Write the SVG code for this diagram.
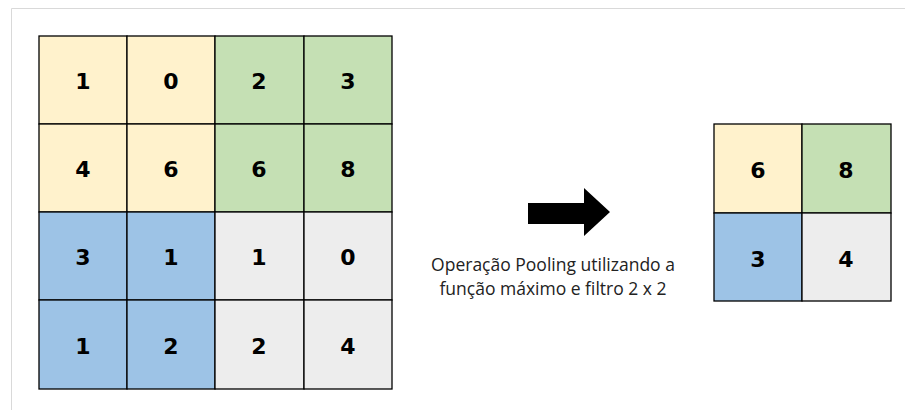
<svg xmlns="http://www.w3.org/2000/svg" width="905" height="410" viewBox="0 0 905 410">
  <style>
    .cell { stroke: #000; stroke-width: 1.3; }
    .y { fill: #FFF2CC; }
    .g { fill: #C5E0B4; }
    .b { fill: #9DC3E6; }
    .e { fill: #EDEDED; }
    .num { font-family: "DejaVu Sans", sans-serif; font-weight: bold; font-size: 22px; fill: #000; text-anchor: middle; }
    .cap { font-family: "Open Sans", "Liberation Sans", sans-serif; font-size: 17.5px; fill: #222; text-anchor: middle; }
  </style>
  <rect width="905" height="410" fill="#fff"/>
  <!-- frame -->
  <path d="M11.5 410 V8.5 H905" fill="none" stroke="#d9d9d9" stroke-width="1"/>

  <!-- 4x4 input matrix -->
  <g id="input">
    <rect class="cell y" x="39" y="36" width="88" height="88"/>
    <rect class="cell y" x="127" y="36" width="88" height="88"/>
    <rect class="cell g" x="215" y="36" width="89" height="88"/>
    <rect class="cell g" x="304" y="36" width="88" height="88"/>
    <rect class="cell y" x="39" y="124" width="88" height="88"/>
    <rect class="cell y" x="127" y="124" width="88" height="88"/>
    <rect class="cell g" x="215" y="124" width="89" height="88"/>
    <rect class="cell g" x="304" y="124" width="88" height="88"/>
    <rect class="cell b" x="39" y="212" width="88" height="88"/>
    <rect class="cell b" x="127" y="212" width="88" height="88"/>
    <rect class="cell e" x="215" y="212" width="89" height="88"/>
    <rect class="cell e" x="304" y="212" width="88" height="88"/>
    <rect class="cell b" x="39" y="300" width="88" height="89"/>
    <rect class="cell b" x="127" y="300" width="88" height="89"/>
    <rect class="cell e" x="215" y="300" width="89" height="89"/>
    <rect class="cell e" x="304" y="300" width="88" height="89"/>
    <text class="num" x="83" y="89">1</text>
    <text class="num" x="171" y="89">0</text>
    <text class="num" x="259" y="89">2</text>
    <text class="num" x="348" y="89">3</text>
    <text class="num" x="83" y="177">4</text>
    <text class="num" x="171" y="177">6</text>
    <text class="num" x="259" y="177">6</text>
    <text class="num" x="348" y="177">8</text>
    <text class="num" x="83" y="265">3</text>
    <text class="num" x="171" y="265">1</text>
    <text class="num" x="259" y="265">1</text>
    <text class="num" x="348" y="265">0</text>
    <text class="num" x="83" y="354">1</text>
    <text class="num" x="171" y="354">2</text>
    <text class="num" x="259" y="354">2</text>
    <text class="num" x="348" y="354">4</text>
  </g>

  <!-- arrow and caption -->
  <g id="operation">
    <polygon points="528,203 584,203 584,188 610,212 584,236 584,224 528,224" fill="#000"/>
    <text class="cap" x="553" y="271">Operação Pooling utilizando a</text>
    <text class="cap" x="553" y="295">função máximo e filtro 2 x 2</text>
  </g>

  <!-- 2x2 pooled output -->
  <g id="output">
    <rect class="cell y" x="714" y="124" width="88" height="89"/>
    <rect class="cell g" x="802" y="124" width="89" height="89"/>
    <rect class="cell b" x="714" y="213" width="88" height="88"/>
    <rect class="cell e" x="802" y="213" width="89" height="88"/>
    <text class="num" x="758" y="178">6</text>
    <text class="num" x="846" y="178">8</text>
    <text class="num" x="758" y="267">3</text>
    <text class="num" x="846" y="267">4</text>
  </g>
</svg>
